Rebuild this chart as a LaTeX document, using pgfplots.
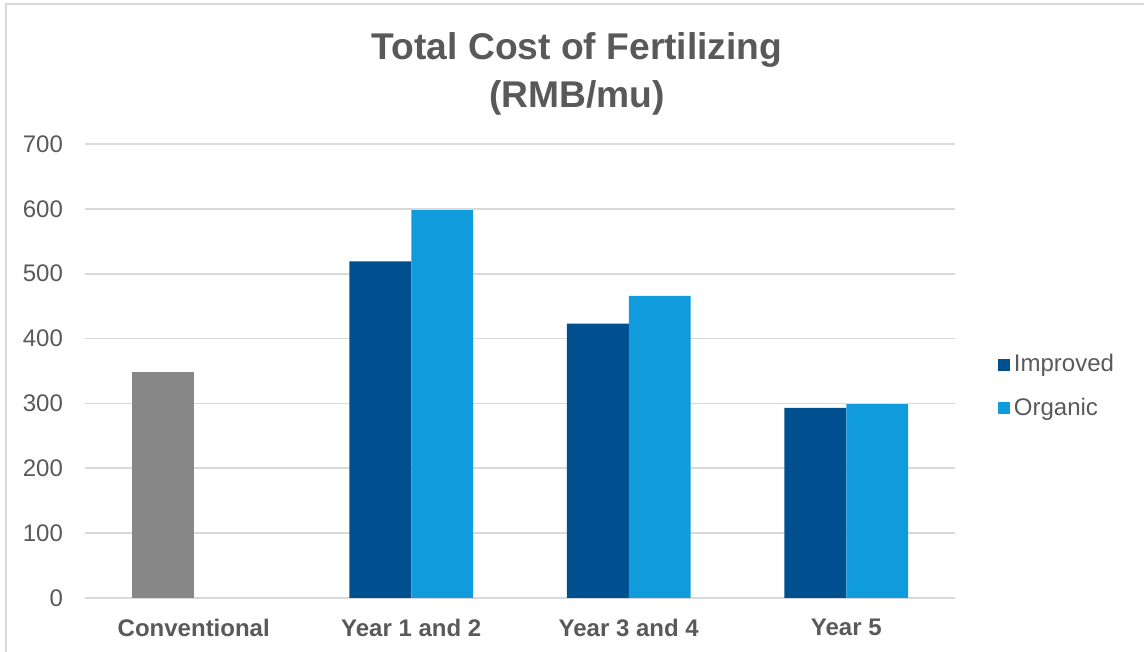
\documentclass[border=0pt]{standalone}
\usepackage{pgfplots}
\pgfplotsset{compat=1.18}
\usepackage{fontspec}
\setmainfont{Liberation Sans}
\definecolor{txt}{HTML}{595959}
\definecolor{gridc}{HTML}{D9D9D9}
\definecolor{impr}{HTML}{00508F}
\definecolor{org}{HTML}{0F9BDC}
\definecolor{conv}{HTML}{878787}
\begin{document}
\begin{tikzpicture}
\useasboundingbox (0,0) rectangle (572pt,326pt);
\draw[gridc, line width=1pt] (3pt,0) -- (3pt,324pt) -- (572pt,324pt);
\node[font=\fontsize{18.6}{22}\selectfont\bfseries, text=txt] at (288.5pt,301pt) {Total Cost of Fertilizing};
\node[font=\fontsize{18.6}{22}\selectfont\bfseries, text=txt] at (288.5pt,277pt) {(RMB/mu)};
\begin{axis}[
  at={(42.5pt,27pt)}, anchor=south west, scale only axis,
  width=435pt, height=227pt,
  xmin=-0.5, xmax=3.5, ymin=0, ymax=700,
  ytick={0,100,...,700},
  xtick={0,1,2,3},
  xticklabels={Conventional, Year 1 and 2, Year 3 and 4, Year 5},
  axis line style={draw=none},
  major tick length=0pt,
  ymajorgrids,
  grid style={gridc, line width=0.9pt},
  /pgf/number format/assume math mode=true,
  yticklabel style={font=\fontsize{12}{14}\selectfont, text=txt, xshift=-7.5pt},
  xticklabel style={font=\fontsize{12}{14}\selectfont\bfseries, text=txt, yshift=-7pt},
  legend style={draw=none, fill=none, at={(1.042,0.466)}, anchor=west,
    font=\fontsize{12}{14}\selectfont, text=txt, row sep=7.5pt,
    /tikz/every even column/.append style={column sep=0pt}},
  legend cell align=left,
  sqlegend/.style={legend image code/.code={\fill[##1] (0pt,-3pt) rectangle (6pt,3pt);}},
]
\addplot[ybar, bar width=0.285, bar shift=-0.1425, fill=conv, draw=none, forget plot] coordinates {(0,348)};
\addplot[ybar, bar width=0.285, bar shift=-0.1425, fill=impr, draw=none, sqlegend] coordinates {(1,519) (2,423) (3,293)};
\addlegendentry{Improved}
\addplot[ybar, bar width=0.285, bar shift=0.1425, fill=org, draw=none, sqlegend] coordinates {(1,598) (2,466) (3,299)};
\addlegendentry{Organic}
\end{axis}
\end{tikzpicture}
\end{document}
